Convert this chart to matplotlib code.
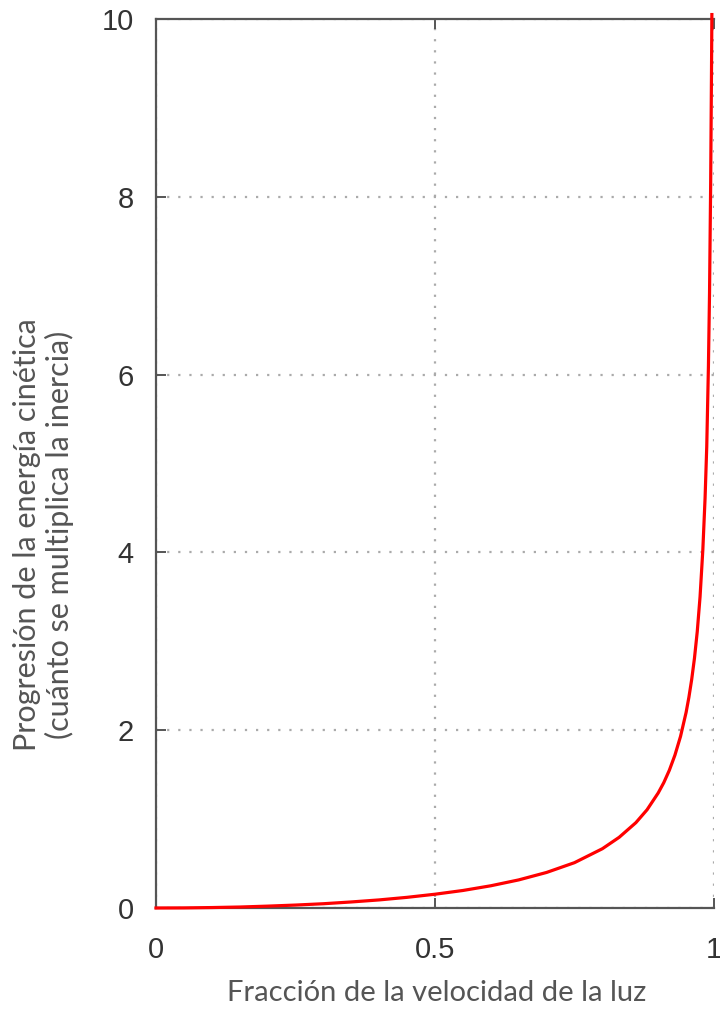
import matplotlib.pyplot as plt

# velocity fraction (v/c) and kinetic-energy factor
speed = [0.0, 0.05, 0.1, 0.15, 0.2, 0.25, 0.3, 0.35, 0.4, 0.45, 0.5, 0.55,
         0.6, 0.65, 0.7, 0.75, 0.8, 0.83, 0.86, 0.88, 0.9, 0.91, 0.92, 0.93,
         0.94, 0.95, 0.955, 0.96, 0.965, 0.97, 0.975, 0.98, 0.984, 0.987,
         0.99, 0.992, 0.994, 0.9955, 0.9962]
energy = [0.0, 0.001, 0.005, 0.011, 0.021, 0.033, 0.048, 0.068, 0.091, 0.12,
          0.155, 0.197, 0.25, 0.316, 0.40, 0.51, 0.667, 0.795, 0.96, 1.105,
          1.294, 1.41, 1.55, 1.72, 1.93, 2.20, 2.37, 2.57, 2.81, 3.11, 3.50,
          4.03, 4.61, 5.19, 6.09, 6.92, 8.14, 9.4, 10.05]

xticks = [0, 0.5, 1]
xtick_labels = ["0", "0.5", "1"]
yticks = [0, 2, 4, 6, 8, 10]

fig = plt.figure(figsize=(7.2, 10.11), dpi=100)
ax = fig.add_axes([156 / 720, 1 - 908 / 1011, 558 / 720, 889 / 1011])

ax.plot(speed, energy, color="#ff0000", lw=2.3, zorder=3, clip_on=False)

ax.set_xlim(0, 1)
ax.set_ylim(0, 10)
ax.set_xticks(xticks)
ax.set_xticklabels(xtick_labels)
ax.set_yticks(yticks)
ax.grid(True, linestyle=(0, (1, 4)), color="#aaaaaa", lw=1.6)
ax.tick_params(direction="in", length=7, width=1.4, colors="#555555",
               labelsize=21, labelcolor="#333333", top=True)
ax.tick_params(axis="x", pad=20)
ax.tick_params(axis="y", pad=16)
for lbl in ax.get_xticklabels() + ax.get_yticklabels():
    lbl.set_family("Liberation Sans")
for s in ax.spines.values():
    s.set_color("#555555")
    s.set_linewidth(1.6)
ax.spines["right"].set_visible(False)

ax.set_xlabel("Fracción de la velocidad de la luz", family="Lato",
              fontsize=21, color="#555555")
ax.xaxis.set_label_coords((437 - 156) / 558, (908 - 980) / 889)
ax.set_ylabel("Progresión de la energía cinética\n(cuánto se multiplica la inercia)",
              family="Lato", fontsize=22, color="#555555", linespacing=1.15)
ax.yaxis.set_label_coords((74 - 156) / 558, (908 - 535) / 889)

plt.savefig("out.png", dpi=100)
